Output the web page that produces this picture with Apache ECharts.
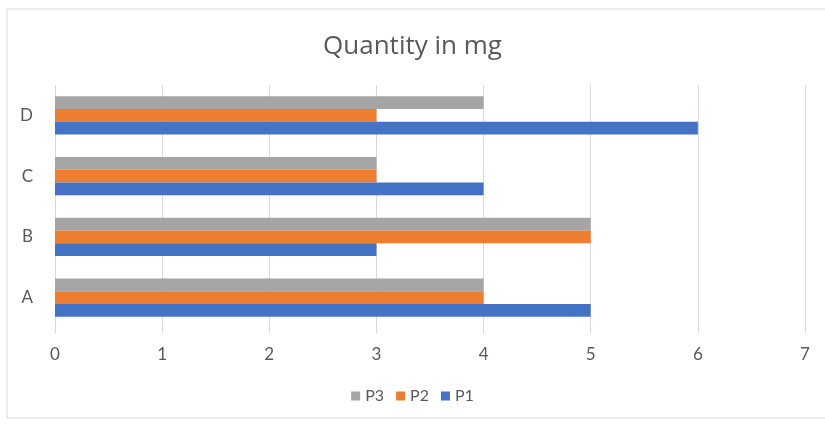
<!DOCTYPE html>
<html>
<head>
<meta charset="utf-8">
<script src="https://cdn.jsdelivr.net/npm/echarts@6/dist/echarts.min.js"></script>
<style>
html,body{margin:0;padding:0;background:#fff;}
#chart{width:825px;height:424px;}
</style>
</head>
<body>
<div id="chart"></div>
<script>
const categories = ['A', 'B', 'C', 'D'];
const p1 = [5, 3, 4, 6];
const p2 = [4, 5, 3, 3];
const p3 = [4, 5, 3, 4];
const xTicks = [0, 1, 2, 3, 4, 5, 6, 7];

const chart = echarts.init(document.getElementById('chart'));
const font = 'Lato, "Open Sans", sans-serif';
chart.setOption({
  animation: false,
  backgroundColor: '#ffffff',
  graphic: [{
    type: 'rect',
    shape: { x: 7, y: 9, width: 830, height: 409 },
    style: { fill: 'none', stroke: '#d9d9d9', lineWidth: 1 }
  }],
  title: {
    text: 'Quantity in mg',
    left: 'center',
    top: 29,
    textStyle: { fontFamily: '"Open Sans", sans-serif', fontSize: 26, fontWeight: 'normal', color: '#595959' }
  },
  legend: {
    data: ['P3', 'P2', 'P1'],
    bottom: 15,
    left: 'center',
    itemWidth: 9,
    itemHeight: 9,
    itemGap: 12,
    icon: 'rect',
    textStyle: { fontFamily: font, fontSize: 16, color: '#595959' }
  },
  grid: { left: 55, right: 20, top: 85, bottom: 96, containLabel: false },
  xAxis: {
    type: 'value',
    min: xTicks[0],
    max: xTicks[xTicks.length - 1],
    interval: 1,
    axisLine: { show: false },
    axisTick: { show: true, length: 5, lineStyle: { color: '#d9d9d9' } },
    axisLabel: { fontFamily: font, fontSize: 17, color: '#595959', margin: 18 },
    splitLine: { show: true, lineStyle: { color: '#d9d9d9', width: 1 } }
  },
  yAxis: {
    type: 'category',
    data: categories,
    axisLine: { show: false },
    axisTick: { show: false },
    axisLabel: { fontFamily: font, fontSize: 17, color: '#595959', margin: 22 }
  },
  series: [
    { name: 'P3', type: 'bar', data: p3, itemStyle: { color: '#A5A5A5' }, barGap: '0%', barCategoryGap: '37%' },
    { name: 'P2', type: 'bar', data: p2, itemStyle: { color: '#ED7D31' }, barGap: '0%', barCategoryGap: '37%' },
    { name: 'P1', type: 'bar', data: p1, itemStyle: { color: '#4472C4' }, barGap: '0%', barCategoryGap: '37%' }
  ]
});
</script>
</body>
</html>
